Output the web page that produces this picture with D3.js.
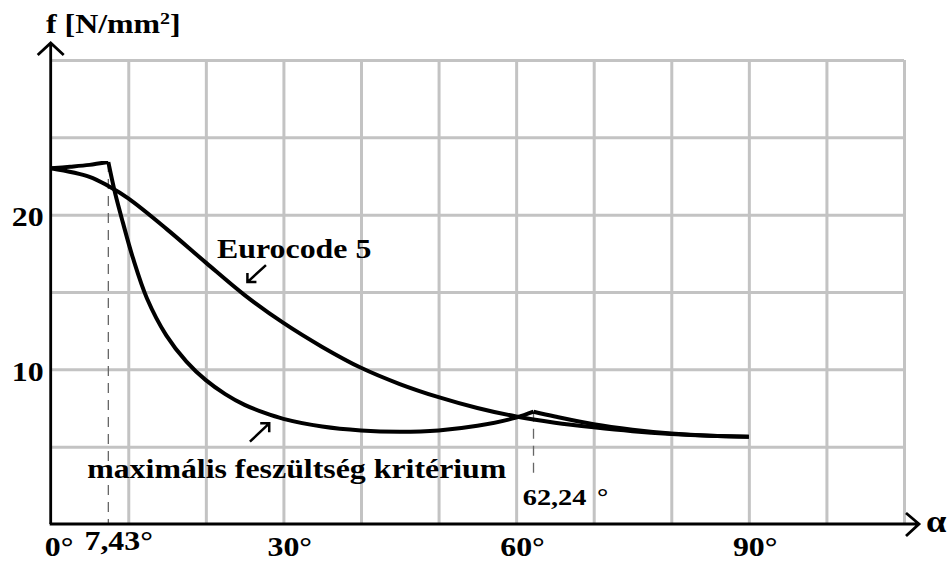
<!DOCTYPE html>
<html>
<head>
<meta charset="utf-8">
<script src="https://cdn.jsdelivr.net/npm/d3@7"></script>
<style>
    body { margin: 0; background: #fff; }
    svg { display: block; }
    .lbl { font-family: 'Liberation Serif', 'Times New Roman', serif; font-weight: bold; fill: #000; }
</style>
</head>
<body>
<script>
'use strict';
// f - alpha diagram: Eurocode 5 vs. maximális feszültség kritérium
const xGridValues = [10, 20, 30, 40, 50, 60, 70, 80, 90, 100, 110]
const yGridValues = [5, 10, 15, 20, 25, 30]
const xTickValues = [0, 7.43, 30, 60, 90]
const xTickLabels = ['0', '7,43', '30', '60', '90']
const yTickValues = [10, 20]
const yTickLabels = ['10', '20']
const criticalAngles = [7.43, 62.24]
const criticalLabel = '62,24'

const eurocodeAlpha = [0, 5, 7.43, 10, 15, 20, 25, 30, 35, 40, 45, 50, 55, 60, 65, 70, 75, 80, 85, 90]
const eurocodeF = [23.0, 22.45, 21.85, 21.05, 19.05, 16.9, 14.8, 13.0, 11.45, 10.1, 9.05, 8.2, 7.5, 6.95, 6.55, 6.25, 6.0, 5.82, 5.7, 5.64]

// maximum stress criterion, three pieces (kinks at the critical angles)
const maxRiseAlpha = [0, 2.5, 5, 7.43]
const maxRiseF = [23.0, 23.1, 23.22, 23.4]
const maxDropAlpha = [7.43, 8.3, 9.3, 10.6, 12.4, 14.9, 17.5, 20, 22.5, 25, 27.5, 30, 35, 40, 45, 50, 55, 60, 62.24]
const maxDropF = [23.4, 21.4, 19.5, 17.2, 14.6, 12.2, 10.5, 9.3, 8.4, 7.7, 7.2, 6.8, 6.3, 6.05, 5.97, 6.05, 6.35, 6.88, 7.26]
const maxTailAlpha = [62.24, 65, 70, 75, 80, 85, 90]
const maxTailF = [7.26, 6.95, 6.45, 6.1, 5.85, 5.7, 5.64]

const gridGray = '#c3c3c3'
const stretch = 1.18 // the original lettering is a bit wider than Times

const svg = d3.select('body').append('svg')
    .attr('width', 951)
    .attr('height', 562)
const x = d3.scaleLinear()
    .domain([0, 110])
    .range([50.7, 904])
const y = d3.scaleLinear()
    .domain([0, 30])
    .range([524, 60])

const zip = (a, b) => a.map((d, i) => [d, b[i]])
const fLine = d3.line()
    .x(d => x(d[0]))
    .y(d => y(d[1]))
    .curve(d3.curveCatmullRom.alpha(0.5))

svg.append('g') // vertical grid lines
    .attr('transform', `translate(0, ${y(0)})`)
    .call(d3.axisBottom(x).tickValues(xGridValues).tickSize(y(30) - y(0)).tickFormat(''))
    .call(g => g.select('.domain').remove())
    .selectAll('line')
    .attr('stroke', gridGray)
    .attr('stroke-width', 3)
svg.append('g') // horizontal grid lines
    .attr('transform', `translate(${x(0)}, 0)`)
    .call(d3.axisLeft(y).tickValues(yGridValues).tickSize(x(0) - x(110)).tickFormat(''))
    .call(g => g.select('.domain').remove())
    .selectAll('line')
    .attr('stroke', gridGray)
    .attr('stroke-width', 3)

svg.append('g').selectAll('line') // dashed lines at the critical angles
    .data(zip(criticalAngles, [maxRiseF[maxRiseF.length - 1], maxTailF[0]]))
    .enter().append('line')
    .attr('x1', d => x(d[0]))
    .attr('x2', d => x(d[0]))
    .attr('y1', d => y(d[1]))
    .attr('y2', (d, i) => i === 0 ? y(0) : y(3))
    .attr('stroke', '#666')
    .attr('stroke-width', 1.3)
    .attr('stroke-dasharray', '10,7')

svg.append('path') // Eurocode 5 curve
    .datum(zip(eurocodeAlpha, eurocodeF))
    .attr('fill', 'none')
    .attr('stroke', '#000')
    .attr('stroke-width', 4)
    .attr('d', fLine)
svg.append('g').selectAll('path') // max stress criterion curve
    .data([zip(maxRiseAlpha, maxRiseF), zip(maxDropAlpha, maxDropF), zip(maxTailAlpha, maxTailF)])
    .enter().append('path')
    .attr('fill', 'none')
    .attr('stroke', '#000')
    .attr('stroke-width', 4)
    .attr('stroke-linejoin', 'round')
    .attr('d', fLine)

// axes with arrow heads
svg.append('path')
    .attr('d', `M${x(0)},${y(0)} L${x(0)},${y(30) - 16} M${x(0) - 13},${y(30) - 5} L${x(0)},${y(30) - 17} L${x(0) + 13},${y(30) - 5}`)
    .attr('fill', 'none')
    .attr('stroke', '#000')
    .attr('stroke-width', 2.8)
svg.append('path')
    .attr('d', `M${x(0) - 1},${y(0)} L${x(110) + 14},${y(0)} M${x(110) + 2},${y(0) - 11} L${x(110) + 15},${y(0)} L${x(110) + 2},${y(0) + 12}`)
    .attr('fill', 'none')
    .attr('stroke', '#000')
    .attr('stroke-width', 2.8)

// y tick labels
svg.append('g').selectAll('text')
    .data(zip(yTickValues, yTickLabels))
    .enter().append('text')
    .attr('class', 'lbl')
    .attr('font-size', 27)
    .attr('text-anchor', 'end')
    .attr('transform', d => `translate(${x(0) - 7}, ${y(d[0]) + 11.5}) scale(${stretch},1)`)
    .text(d => d[1])

// x tick labels: number centred on the tick, degree sign appended
const xLabels = svg.append('g').selectAll('text')
    .data(zip(xTickValues, xTickLabels))
    .enter().append('text')
    .attr('class', 'lbl')
    .attr('font-size', 27)
    .attr('transform', d => d[0] === 7.43
        ? `translate(${x(d[0]) + 4}, ${y(0) + 26}) scale(${stretch},1)`
        : `translate(${x(d[0]) + (d[0] === 0 ? 2 : 0)}, ${y(0) + 32}) scale(${stretch},1)`)
xLabels.append('tspan').attr('class', 'num').text(d => d[1])
xLabels.append('tspan').text('°')
xLabels.each(function() {
    const w = d3.select(this).select('.num').node().getComputedTextLength()
    d3.select(this).attr('x', -w / 2)
})

// axis titles
const fTitle = svg.append('text')
    .attr('class', 'lbl')
    .attr('font-size', 27)
    .attr('transform', `translate(46, 33) scale(${stretch},1)`)
fTitle.append('tspan').text('f [N/mm')
fTitle.append('tspan').attr('font-size', 17).attr('dy', -9).text('2')
fTitle.append('tspan').attr('dy', 9).text(']')
svg.append('text')
    .attr('class', 'lbl')
    .attr('font-size', 31)
    .attr('font-weight', 'normal')
    .attr('transform', `translate(${x(110) + 22}, ${y(0) + 8}) scale(${stretch},1)`)
    .text('α')

// curve labels and arrows
svg.append('text')
    .attr('class', 'lbl')
    .attr('font-size', 27)
    .attr('transform', `translate(${x(21.45)}, ${y(17.2)}) scale(${stretch},1)`)
    .text('Eurocode 5')
svg.append('text')
    .attr('class', 'lbl')
    .attr('font-size', 27)
    .attr('transform', `translate(${x(4.7)}, ${y(2.97)}) scale(${stretch},1)`)
    .text('maximális feszültség kritérium')
const critText = svg.append('text')
    .attr('class', 'lbl')
    .attr('font-size', 24)
    .attr('font-weight', 'normal')
    .attr('transform', `translate(${x(60.85)}, ${y(1.23)}) scale(${stretch},1)`)
critText.append('tspan').text(criticalLabel)
critText.append('tspan').attr('dx', 9).text('°')

const arrows = [
    { from: [27.75, 16.74], to: [25.36, 15.64], hx: 9, hy: -9 },
    { from: [25.68, 5.32], to: [28.17, 6.51], hx: -9, hy: 9 }
]
svg.append('g').selectAll('path')
    .data(arrows)
    .enter().append('path')
    .attr('d', d => {
        const tx = x(d.to[0]), ty = y(d.to[1])
        return `M${x(d.from[0])},${y(d.from[1])} L${tx},${ty} M${tx + d.hx},${ty} L${tx},${ty} L${tx},${ty + d.hy}`
    })
    .attr('fill', 'none')
    .attr('stroke', '#000')
    .attr('stroke-width', 2.5)
</script>
</body>
</html>
